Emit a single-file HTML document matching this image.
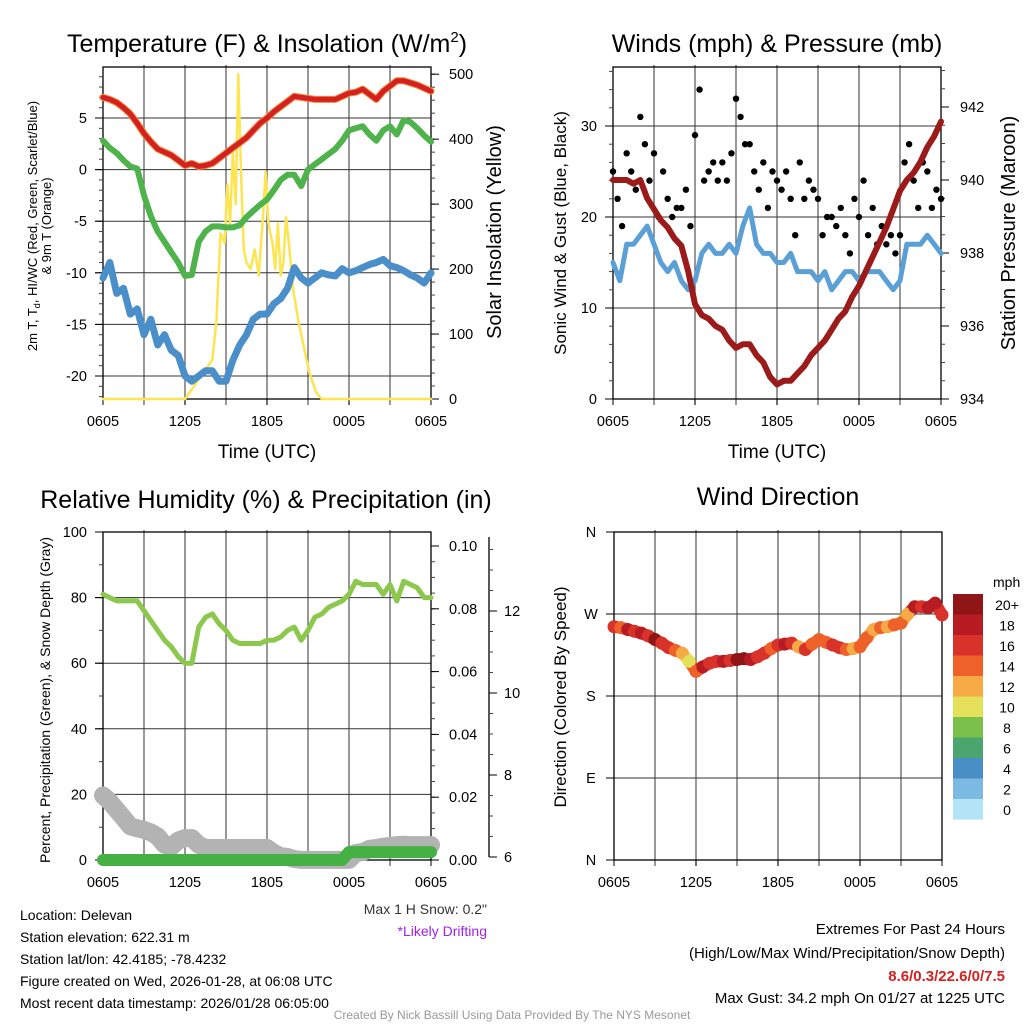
<!DOCTYPE html>
<html><head><meta charset="utf-8"><style>
html,body{margin:0;padding:0;background:#fff;}
svg{display:block;font-family:"Liberation Sans",sans-serif;}
</style></head><body>
<svg id="chart" width="1024" height="1024" viewBox="0 0 1024 1024">
<text x="267" y="52" font-size="25" text-anchor="middle">Temperature (F) &amp; Insolation (W/m<tspan dy="-10" font-size="15">2</tspan><tspan dy="10">)</tspan></text>
<text x="777" y="52" font-size="25" text-anchor="middle">Winds (mph) &amp; Pressure (mb)</text>
<text x="266" y="508" font-size="25" text-anchor="middle">Relative Humidity (%) &amp; Precipitation (in)</text>
<text x="778" y="505" font-size="25" text-anchor="middle">Wind Direction</text>
<text x="267" y="458" font-size="19" text-anchor="middle">Time (UTC)</text>
<text x="777" y="458" font-size="19" text-anchor="middle">Time (UTC)</text>
<text transform="translate(37,226) rotate(-90)" font-size="13" text-anchor="middle">2m T, T<tspan dy="3" font-size="9">d</tspan><tspan dy="-3">, HI/WC (Red, Green, Scarlet/Blue)</tspan></text>
<text transform="translate(51,226) rotate(-90)" font-size="13" text-anchor="middle">&amp; 9m T (Orange)</text>
<text transform="translate(501,232) rotate(-90)" font-size="20" text-anchor="middle">Solar Insolation (Yellow)</text>
<text transform="translate(566,233) rotate(-90)" font-size="17" text-anchor="middle">Sonic Wind &amp; Gust (Blue, Black)</text>
<text transform="translate(1015,233) rotate(-90)" font-size="20" text-anchor="middle">Station Pressure (Maroon)</text>
<text transform="translate(50,700) rotate(-90)" font-size="14" text-anchor="middle">Percent, Precipitation (Green), &amp; Snow Depth (Gray)</text>
<text transform="translate(566,697) rotate(-90)" font-size="17" text-anchor="middle">Direction (Colored By Speed)</text>
<text x="487" y="914" font-size="14" text-anchor="end" fill="#333">Max 1 H Snow: 0.2"</text>
<text x="487" y="936" font-size="14" text-anchor="end" fill="#a020f0">*Likely Drifting</text>
<g font-size="14">
<text x="20" y="920">Location: Delevan</text>
<text x="20" y="942">Station elevation: 622.31 m</text>
<text x="20" y="964">Station lat/lon: 42.4185; -78.4232</text>
<text x="20" y="986">Figure created on Wed, 2026-01-28, at 06:08 UTC</text>
<text x="20" y="1008">Most recent data timestamp: 2026/01/28 06:05:00</text>
</g>
<g font-size="15" text-anchor="end">
<text x="1005" y="934">Extremes For Past 24 Hours</text>
<text x="1005" y="958">(High/Low/Max Wind/Precipitation/Snow Depth)</text>
<text x="1005" y="981" fill="#d42020" font-weight="bold">8.6/0.3/22.6/0/7.5</text>
<text x="1005" y="1003">Max Gust: 34.2 mph On 01/27 at 1225 UTC</text>
</g>
<text x="512" y="1019" font-size="12" fill="#999" text-anchor="middle">Created By Nick Bassill Using Data Provided By The NYS Mesonet</text>
</svg>
<script>
// ---------- data ----------
const hours = [0,0.5,1,1.5,2,2.5,3,3.5,4,4.5,5,5.5,6,6.5,7,7.5,8,8.5,9,9.5,10,10.5,11,11.5,12,12.5,13,13.5,14,14.5,15,15.5,16,16.5,17,17.5,18,18.5,19,19.5,20,20.5,21,21.5,22,22.5,23,23.5,24];
const tempF = [7,6.8,6.5,6,5.4,4.5,3.5,2.7,2,1.7,1.4,0.9,0.4,0.6,0.3,0.4,0.6,1.1,1.6,2.1,2.6,3.1,3.8,4.5,5,5.6,6.1,6.6,7.1,7,6.9,6.8,6.8,6.8,6.8,7.1,7.4,7.5,7.8,7.3,6.8,7.6,8.1,8.6,8.6,8.4,8.2,7.9,7.6];
const hiwcF = [2.8,2.1,1.6,0.9,0.3,0.1,-2.5,-4.5,-6,-7,-8,-9,-10.3,-10.2,-7,-6,-5.5,-5.5,-5.6,-5.6,-5.4,-4.6,-4,-3.4,-2.9,-2,-1,-0.5,-0.5,-1.6,0,0.5,1,1.5,2,2.8,3.8,4,4.2,3.4,2.8,3.8,4.2,3.4,4.8,4.6,4,3.3,2.7];
const dewF = [-10.5,-9,-12,-11.5,-14,-13.5,-16,-14.5,-17,-16,-17.5,-18,-20,-20.5,-20,-19.5,-19.5,-20.5,-20.5,-18.5,-17,-16,-14.5,-14,-14,-13,-12.5,-11.5,-9.5,-10.5,-11,-10.5,-10,-10.2,-10.3,-9.6,-10,-9.8,-9.5,-9.2,-9,-8.7,-9.3,-9.5,-9.8,-10.2,-10.5,-11,-10];
const solarHours = [0,6,6.5,7,7.5,8,8.3,8.6,8.9,9.1,9.3,9.5,9.7,9.9,10.1,10.3,10.5,10.8,11.1,11.4,11.7,11.9,12.1,12.4,12.6,12.8,13,13.2,13.4,13.6,13.9,14.3,14.7,15.1,15.6,16,24];
const solarW = [0,0,15,30,45,60,120,255,240,330,270,380,300,500,350,230,210,200,230,190,280,350,270,240,200,270,190,210,280,240,170,120,80,40,10,0,0];
const windMph = [15,13,17,17,18,19,17,15,14,15,13,12,13,16,17,16,16,17,16,19,21,17,16,16,15,15,16,14,14,14,13,14,12,13,14,14,13,14,14,14,13,12,13,17,17,17,18,17,16];
const gustHours = Array.from({length:73},(_,i)=>i/3);
const gustMph = [25,22,19,27,25,23,31,28,24,27,20,25,22,20,21,21,23,19,29,34,24,25,26,24,26,24,27,33,31,28,28,25,23,26,21,25,24,23,25,22,18,26,22,24,23,22,18,20,20,19,21,18,16,22,20,24,18,21,17,19,17,18,16,18,26,28,24,21,26,25,21,23,22];
const pressureMb = [940,940,940,939.9,940,939.5,939.2,938.9,938.7,938.4,938.2,937.5,936.6,936.3,936.2,936,935.9,935.6,935.4,935.5,935.5,935.2,935,934.6,934.4,934.5,934.5,934.7,934.9,935.2,935.4,935.6,935.9,936.2,936.4,936.8,937.1,937.5,937.9,938.3,938.7,939.2,939.7,940,940.2,940.5,940.9,941.2,941.6];
const rhPct = [81,80,79,79,79,79,76,73,70,67,65,62,60,60,71,74,75,72,70,67,66,66,66,66,67,67,68,70,71,67,70,74,75,77,78,79,81,85,84,84,84,81,84,79,85,84,83,80,80];
const precipIn = [0,0,0,0,0,0,0,0,0,0,0,0,0,0,0,0,0,0,0,0,0,0,0,0,0,0,0,0,0,0,0,0,0,0,0,0,0.0025,0.0025,0.0025,0.0025,0.0025,0.0025,0.0025,0.0025,0.0025,0.0025,0.0025,0.0025,0.0025];
const snowIn = [7.5,7.35,7.15,6.95,6.75,6.7,6.66,6.6,6.5,6.3,6.25,6.4,6.46,6.46,6.3,6.22,6.22,6.22,6.22,6.22,6.22,6.22,6.22,6.22,6.22,6.1,6.02,6,5.95,5.93,5.93,5.93,5.93,5.93,5.93,5.93,5.93,6.1,6.12,6.2,6.22,6.25,6.27,6.29,6.3,6.29,6.29,6.29,6.29];
const dirDeg = [256,255,253,251,249,246,242,238,233,230,227,218,207,212,216,218,218,219,220,221,220,223,227,232,236,237,238,234,231,237,242,239,236,233,231,232,234,244,253,255,256,258,260,270,278,278,277,282,269];
const dirSpeed = [17,15,18,16,19,17,20,16,17,14,13,11,15,18,17,16,18,17,20,21,19,16,17,15,16,18,17,13,16,14,15,14,16,17,14,13,14,15,12,14,13,14,15,12,18,17,18,19,17];
const timeTicks = ["0605","1205","1805","0005","0605"];
const tempTicks = [5,0,-5,-10,-15,-20];
const solarTicks = [500,400,300,200,100,0];
const windTicks = [30,20,10,0];
const pressTicks = [942,940,938,936,934];
const rhTicks = [100,80,60,40,20,0];
const precipTicks = ["0.10","0.08","0.06","0.04","0.02","0.00"];
const snowTicks = [12,10,8,6];
const dirTicks = ["N","W","S","E","N"];
const dirTickDeg = [360,270,180,90,0];
const speedBins = ["20+","18","16","14","12","10","8","6","4","2","0"];
const speedColors = ["#8f1516","#b81c23","#d9322a","#ee6129","#f5aa45","#e4e05a","#7bc04b","#4aa56e","#4a8ec6","#7cb9e3","#b3e3f7"];

// ---------- helpers ----------
const NS="http://www.w3.org/2000/svg";
const svg=document.getElementById('chart');
function mk(tag,attrs,parent){const e=document.createElementNS(NS,tag);for(const k in attrs)e.setAttribute(k,attrs[k]);(parent||svg).appendChild(e);return e;}
function xScale(x0){return h=>x0+h/24*328;}
function pathFrom(xs,ys,xf,yf){return xs.map((h,i)=>(i?'L':'M')+xf(h).toFixed(1)+','+yf(ys[i]).toFixed(1)).join('');}

function frame(name,x0,yT,yB,hGrid,yf){
  const g=mk('g',{});
  
  
  const xf=xScale(x0);
  for(let h=3;h<24;h+=3){
    const l=mk('line',{x1:xf(h),x2:xf(h),y1:yT-2,y2:yB+6,stroke:'#555','stroke-width':1.2},g);
    
    
  }
  hGrid.forEach(v=>{
    const l=mk('line',{x1:x0-8,x2:x0+328,y1:yf(v),y2:yf(v),stroke:'#333','stroke-width':1},g);
    
    
  });
  const r=mk('rect',{x:x0,y:yT,width:328,height:yB-yT,fill:'none',stroke:'#000','stroke-width':1.3},g);
  
  
  timeTicks.forEach((t,i)=>{
    const x=xf(i*6);
    mk('line',{x1:x,x2:x,y1:yB,y2:yB+6,stroke:'#000'},g);
    const tx=mk('text',{x:x,y:yB+27,'font-size':14.5,'text-anchor':'middle'},g);
    tx.textContent=t;
    
    
  });
  return xf;
}
function leftTicks(x0,vals,labels,yf,minorVals){
  (minorVals||[]).forEach(v=>mk('line',{x1:x0-4,x2:x0,y1:yf(v),y2:yf(v),stroke:'#444'}));
  vals.forEach((v,i)=>{
    mk('line',{x1:x0-8,x2:x0,y1:yf(v),y2:yf(v),stroke:'#000'});
    const t=mk('text',{x:x0-16,y:yf(v)+5,'font-size':14.5,'text-anchor':'end'});
    t.textContent=labels[i];
    
    
  });
}
function rightTicks(x,vals,labels,yf,minorVals,lx){
  (minorVals||[]).forEach(v=>mk('line',{x1:x,x2:x+4,y1:yf(v),y2:yf(v),stroke:'#444'}));
  vals.forEach((v,i)=>{
    mk('line',{x1:x,x2:x+8,y1:yf(v),y2:yf(v),stroke:'#000'});
    const t=mk('text',{x:lx,y:yf(v)+5,'font-size':14.5});
    t.textContent=labels[i];
    
    
  });
}
function line(name,xs,ys,xf,yf,color,w){
  const p=mk('path',{d:pathFrom(xs,ys,xf,yf),fill:'none',stroke:color,'stroke-width':w,'stroke-linejoin':'round','stroke-linecap':'round'});
  
  
  return p;
}
function range(a,b,s){const r=[];for(let v=a;v<=b+1e-9;v+=s)r.push(v);return r;}

// ---------- panel 1 ----------
const t1=v=>118+(5-v)*10.32, s1=v=>399-v*0.6496;
const x1=frame('temperature',103,67,399,tempTicks,t1);
leftTicks(103,tempTicks,tempTicks,t1,range(-22,9,1));
rightTicks(431,solarTicks,solarTicks,s1,range(0,500,20),449);
line('solar-insolation-line',solarHours,solarW,x1,s1,'#fde552',2.5);
line('dewpoint-line',hours,dewF,x1,t1,'#4a8fc9',7);
line('heat-index-wind-chill-line',hours,hiwcF,x1,t1,'#4db34a',6);
line('temperature-line',hours,tempF,x1,t1,'#f08a3a',7);
line('temperature-line-2m',hours,tempF,x1,t1,'#d42020',5);

// ---------- panel 2 ----------
const w2=v=>399-v*9.1, p2=v=>399-(v-934)*36.5;
const x2=frame('winds',613,67,399,windTicks,w2);
leftTicks(613,windTicks,windTicks,w2,range(0,36,2));
rightTicks(941,pressTicks,pressTicks,p2,range(934,943,0.5),960);
line('sonic-wind-line',hours,windMph,x2,w2,'#5a9fd6',5);
gustHours.forEach((h,i)=>{
  const c=mk('circle',{cx:x2(h),cy:w2(gustMph[i]),r:3.2,fill:'#000'});
  
  
});
line('pressure-line',hours,pressureMb,x2,p2,'#9b1b1b',6);

// ---------- panel 3 ----------
const r3=v=>860-v*3.28, pr3=v=>860-v*3140, sn3=v=>857-(v-6)*41;
const x3=frame('humidity',103,532,860,[80,60,40,20],r3);
leftTicks(103,rhTicks,rhTicks,r3,range(0,100,10));
rightTicks(431,[0.1,0.08,0.06,0.04,0.02,0],precipTicks,pr3,range(0,0.104,0.005),449);
const ax=mk('line',{x1:489,x2:489,y1:537,y2:857,stroke:'#000','stroke-width':1.3});


rightTicks(489,snowTicks,snowTicks,sn3,range(6,13.5,0.5),504);
line('snow-depth-line',hours,snowIn,x3,sn3,'#b3b3b3',18);
line('precipitation-line',hours,precipIn,x3,pr3,'#45b145',12);
line('relative-humidity-line',hours,rhPct,x3,r3,'#8cc84b',5);

// ---------- panel 4 ----------
const d4=v=>860-v*328/360;
const x4=frame('wind-direction',614,532,860,[270,180,90],d4);
dirTickDeg.forEach((d,i)=>{
  mk('line',{x1:606,x2:614,y1:d4(d),y2:d4(d),stroke:'#000'});
  const t=mk('text',{x:591,y:d4(d)+5,'font-size':14.5,'text-anchor':'middle'});
  t.textContent=dirTicks[i];
  
  
});
function speedColor(s){const idx=Math.min(10,Math.floor(s/2));return speedColors[10-idx];}
hours.forEach((h,i)=>{
  if(i>0){
    const seg=mk('line',{x1:x4(hours[i-1]),y1:d4(dirDeg[i-1]),x2:x4(h),y2:d4(dirDeg[i]),stroke:speedColor(dirSpeed[i]),'stroke-width':12,'stroke-linecap':'round'});
    
    
  }
});
hours.forEach((h,i)=>{
  const c=mk('circle',{cx:x4(h),cy:d4(dirDeg[i]),r:6.5,fill:speedColor(dirSpeed[i])});
  
  
});
// colorbar
const cbl=mk('text',{x:993,y:587,'font-size':14,'text-anchor':'start'});
cbl.textContent='mph';


speedBins.forEach((b,i)=>{
  const r=mk('rect',{x:953,y:594+i*20.5,width:30,height:20.6,fill:speedColors[i]});
  
  
  const t=mk('text',{x:1007,y:594+i*20.5+16,'font-size':14,'text-anchor':'middle'});
  t.textContent=b;
  
  
});
</script>
</body></html>
